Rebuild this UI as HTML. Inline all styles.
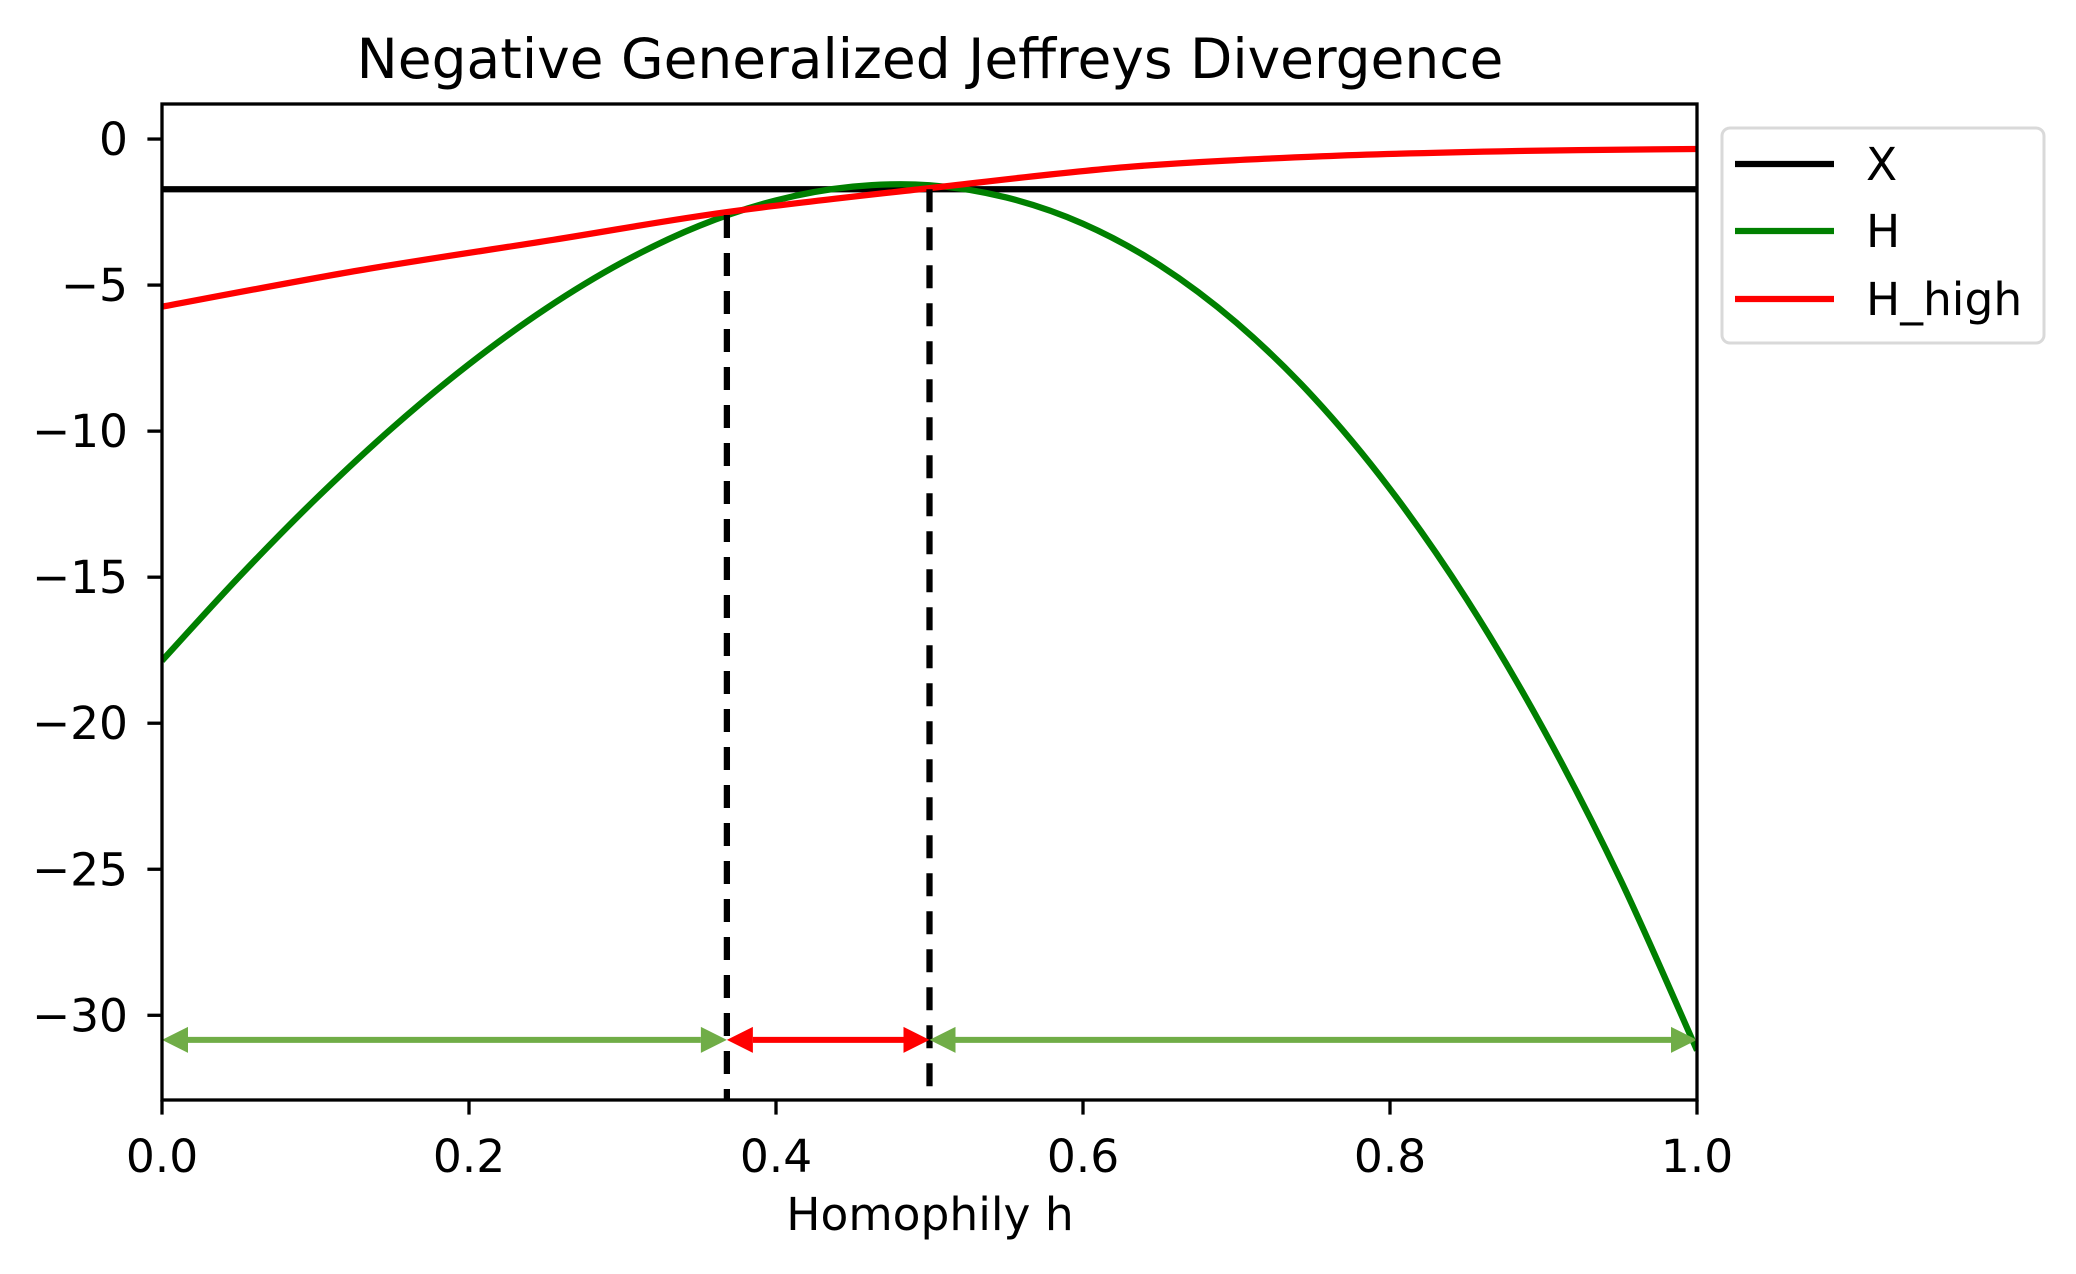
<!DOCTYPE html>
<html><head><meta charset="utf-8"><style>
html,body{margin:0;padding:0;background:#fff;}
svg{display:block;font-family:"DejaVu Sans","Liberation Sans",sans-serif;}
</style></head>
<body>
<svg id="chart" width="2076" height="1274" viewBox="0 0 2076 1274" xmlns="http://www.w3.org/2000/svg">
<text x="930" y="78" font-size="55" text-anchor="middle">Negative Generalized Jeffreys Divergence</text>
<text x="930" y="1230" font-size="45.5" text-anchor="middle">Homophily h</text>
<g id="plot"></g>
<g>
<rect x="1722" y="128" width="322" height="215" rx="8" fill="#fff" stroke="#d9d9d9" stroke-width="3"/>
<line x1="1735" y1="164" x2="1834" y2="164" stroke="#000" stroke-width="6.25"/>
<text x="1866" y="180" font-size="45.5">X</text>
<line x1="1735" y1="231" x2="1834" y2="231" stroke="#008000" stroke-width="6.25"/>
<text x="1866" y="247" font-size="45.5">H</text>
<line x1="1735" y1="299" x2="1834" y2="299" stroke="#ff0000" stroke-width="6.25"/>
<text x="1866" y="315" font-size="45.5">H_high</text>
</g>
</svg>
<script>
const hGreen = [0, 0.05, 0.1, 0.15, 0.2, 0.25, 0.3, 0.35, 0.4, 0.45, 0.5, 0.55, 0.6, 0.65, 0.7, 0.75, 0.8, 0.85, 0.9, 0.95, 1.0];
const vGreen = [-17.86, -15.0, -12.33, -9.89, -7.71, -5.81, -4.22, -2.97, -2.1, -1.63, -1.58, -2.0, -2.9, -4.32, -6.29, -8.83, -11.98, -15.76, -20.21, -25.34, -31.2];
const hRed = [0, 0.128, 0.255, 0.368, 0.5, 0.628, 0.756, 0.883, 1.0];
const vRed = [-5.74, -4.5, -3.45, -2.5, -1.68, -0.96, -0.59, -0.41, -0.34];
const xLevel = -1.72;
const crossings = [0.368, 0.5];
const crossingValues = [-2.6, -1.72];
const arrowLevel = -30.84;
const xTicks = [0, 0.2, 0.4, 0.6, 0.8, 1.0];
const xTickLabels = ["0.0", "0.2", "0.4", "0.6", "0.8", "1.0"];
const yTicks = [0, -5, -10, -15, -20, -25, -30];
const yTickLabels = ["0", "\u22125", "\u221210", "\u221215", "\u221220", "\u221225", "\u221230"];
const X0 = 162, X1 = 1697, YTOP = 104, YBOT = 1100;
const xMin = 0, xMax = 1, yMax = 1.2, yMin = -32.9;
function sx(h){ return X0 + (h - xMin) / (xMax - xMin) * (X1 - X0); }
function sy(v){ return YTOP + (yMax - v) / (yMax - yMin) * (YBOT - YTOP); }
const NS = "http://www.w3.org/2000/svg";
const plot = document.getElementById('plot');
function mk(tag, attrs){ const e = document.createElementNS(NS, tag); for (const k in attrs) e.setAttribute(k, attrs[k]); return e; }
function smooth(xs, ys){
  const p = xs.map((h,i)=>[sx(h), sy(ys[i])]);
  let d = "M" + p[0][0] + "," + p[0][1];
  for (let i=0;i<p.length-1;i++){
    const p0 = p[Math.max(0,i-1)], p1 = p[i], p2 = p[i+1], p3 = p[Math.min(p.length-1,i+2)];
    const c1 = [p1[0]+(p2[0]-p0[0])/6, p1[1]+(p2[1]-p0[1])/6];
    const c2 = [p2[0]-(p3[0]-p1[0])/6, p2[1]-(p3[1]-p1[1])/6];
    d += " C"+c1[0]+","+c1[1]+" "+c2[0]+","+c2[1]+" "+p2[0]+","+p2[1];
  }
  return d;
}
const clip = mk('clipPath', {id:'clipA'});
clip.appendChild(mk('rect', {x:X0, y:YTOP, width:X1-X0, height:YBOT-YTOP}));
plot.appendChild(clip);
const g = mk('g', {'clip-path':'url(#clipA)'});
plot.appendChild(g);
const xl = mk('line', {x1:sx(0), x2:sx(1), y1:sy(xLevel), y2:sy(xLevel), stroke:'#000', 'stroke-width':6.25});


g.appendChild(xl);
const gp = mk('path', {d:smooth(hGreen, vGreen), fill:'none', stroke:'#008000', 'stroke-width':6.25});


g.appendChild(gp);
const rp = mk('path', {d:smooth(hRed, vRed), fill:'none', stroke:'#ff0000', 'stroke-width':6.25});


g.appendChild(rp);
crossings.forEach((c,i)=>{
  const l = mk('line', {x1:sx(c), x2:sx(c), y1:sy(crossingValues[i]), y2:YBOT, stroke:'#000', 'stroke-width':6.25, 'stroke-dasharray':'23 15'});
  
  
  g.appendChild(l);
});
function arrow(a, b, color, name){
  const y = sy(arrowLevel), xa = sx(a), xb = sx(b), L = 26, W = 13;
  const grp = mk('g', {});
  
  
  grp.appendChild(mk('line', {x1:xa+L, x2:xb-L, y1:y, y2:y, stroke:color, 'stroke-width':6}));
  grp.appendChild(mk('polygon', {points:`${xa},${y} ${xa+L},${y-W} ${xa+L},${y+W}`, fill:color}));
  grp.appendChild(mk('polygon', {points:`${xb},${y} ${xb-L},${y-W} ${xb-L},${y+W}`, fill:color}));
  plot.appendChild(grp);
}
arrow(0, crossings[0], '#70ad47', 'low-range-arrow');
arrow(crossings[0], crossings[1], '#ff0000', 'mid-range-arrow');
arrow(crossings[1], 1, '#70ad47', 'high-range-arrow');
const fr = mk('rect', {x:X0, y:YTOP, width:X1-X0, height:YBOT-YTOP, fill:'none', stroke:'#000', 'stroke-width':3.3});


plot.appendChild(fr);
xTicks.forEach((t,i)=>{
  const tk = mk('line', {x1:sx(t), x2:sx(t), y1:YBOT, y2:YBOT+14.6, stroke:'#000', 'stroke-width':3.3});
  
  
  plot.appendChild(tk);
  const tx = mk('text', {x:sx(t), y:1172, 'font-size':45.5, 'text-anchor':'middle'});
  tx.textContent = xTickLabels[i];
  
  
  plot.appendChild(tx);
});
yTicks.forEach((t,i)=>{
  const tk = mk('line', {x1:X0-14.6, x2:X0, y1:sy(t), y2:sy(t), stroke:'#000', 'stroke-width':3.3});
  
  
  plot.appendChild(tk);
  const tx = mk('text', {x:128, y:sy(t)+16, 'font-size':45.5, 'text-anchor':'end'});
  tx.textContent = yTickLabels[i];
  
  
  plot.appendChild(tx);
});
</script>
</body></html>
